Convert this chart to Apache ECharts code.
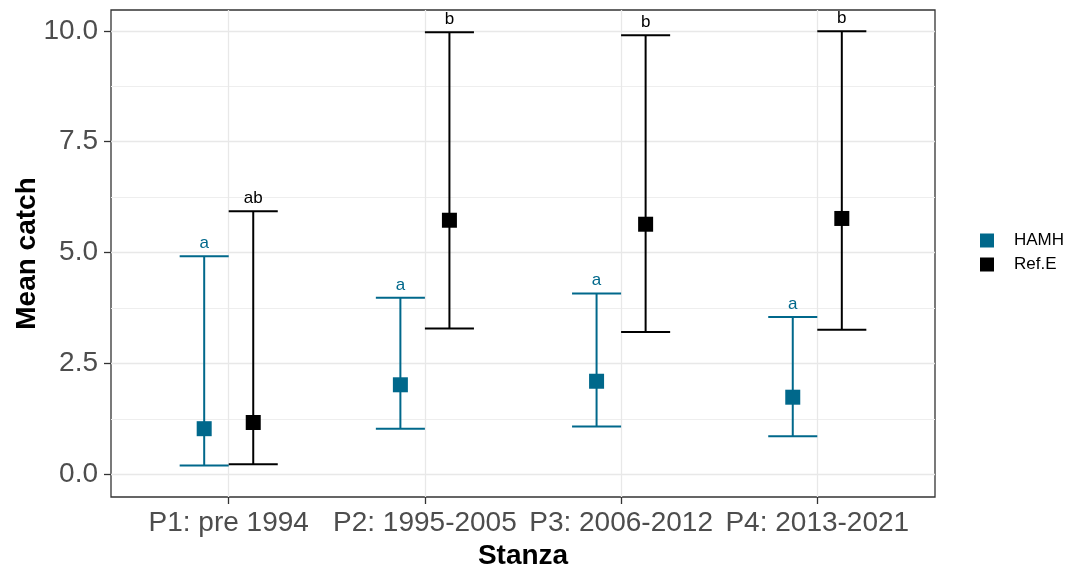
<!DOCTYPE html>
<html>
<head>
<meta charset="utf-8">
<script src="https://cdn.jsdelivr.net/npm/echarts@6/dist/echarts.min.js"></script>
<style>
  html, body { margin: 0; padding: 0; background: #ffffff; }
  #chart { width: 1080px; height: 572px; }
</style>
</head>
<body>
<div id="chart"></div>
<script>
// Stanza periods on the x axis
const categories = ['P1: pre 1994', 'P2: 1995-2005', 'P3: 2006-2012', 'P4: 2013-2021'];

// HAMH: mean catch with lower / upper interval bounds
const hamhMean  = [1.03, 2.02, 2.10, 1.74];
const hamhLower = [0.20, 1.03, 1.08, 0.86];
const hamhUpper = [4.92, 3.98, 4.08, 3.55];
const hamhLetters = ['a', 'a', 'a', 'a'];

// Ref.E: mean catch with lower / upper interval bounds
const refMean  = [1.17, 5.73, 5.64, 5.77];
const refLower = [0.23, 3.29, 3.21, 3.26];
const refUpper = [5.93, 9.97, 9.90, 9.99];
const refLetters = ['ab', 'b', 'b', 'b'];

// Axis ticks
const yTicks = [0, 2.5, 5, 7.5, 10];
const yMinorTicks = [1.25, 3.75, 6.25, 8.75];
const xTicks = [0, 1, 2, 3];

const HAMH_COLOR = '#00688B';
const REF_COLOR = '#000000';
const DODGE = 0.125;     // half the dodge width between groups
const CAP = 0.125;       // half width of error bar caps
const FONT = '"Liberation Sans", Arial, sans-serif';

function errorSeries(name, color, lower, upper, letters, offset) {
  return {
    type: 'custom',
    name: name,
    z: 2,
    silent: true,
    data: categories.map((c, i) => [i + offset, lower[i], upper[i], i]),
    encode: { x: 0, y: [1, 2] },
    renderItem: function (params, api) {
      const x = api.value(0);
      const lo = api.coord([x, api.value(1)]);
      const hi = api.coord([x, api.value(2)]);
      const left = api.coord([x - CAP, api.value(1)])[0];
      const right = api.coord([x + CAP, api.value(1)])[0];
      const style = { stroke: color, lineWidth: 2 };
      return {
        type: 'group',
        children: [
          { type: 'line', shape: { x1: lo[0], y1: lo[1], x2: hi[0], y2: hi[1] }, style: style },
          { type: 'line', shape: { x1: left, y1: lo[1], x2: right, y2: lo[1] }, style: style },
          { type: 'line', shape: { x1: left, y1: hi[1], x2: right, y2: hi[1] }, style: style },
          {
            type: 'text', x: hi[0], y: hi[1] - 13,
            style: {
              text: letters[api.value(3)], fill: color,
              fontSize: 17, fontFamily: FONT,
              align: 'center', verticalAlign: 'middle'
            }
          }
        ]
      };
    }
  };
}

function pointSeries(name, color, means, offset) {
  return {
    type: 'scatter',
    name: name,
    z: 3,
    symbol: 'rect',
    symbolSize: 15,
    itemStyle: { color: color, opacity: 1 },
    data: means.map((v, i) => [i + offset, v])
  };
}

const chart = echarts.init(document.getElementById('chart'), null, { renderer: 'canvas' });

const yRange = { min: -0.51, max: 10.47 };
const majorGrid = { color: '#e8e8e8', width: 1.3 };
const minorGrid = { color: '#eeeeee', width: 1 };

chart.setOption({
  animation: false,
  backgroundColor: '#ffffff',
  grid: {
    left: 111, right: 145, top: 10, bottom: 75,
    show: true, borderColor: '#333333', borderWidth: 1.3,
    backgroundColor: 'transparent',
    containLabel: false,
    outerBoundsMode: 'none'
  },
  legend: {
    orient: 'vertical',
    left: 975, top: 227,
    itemWidth: 14, itemHeight: 14, itemGap: 7,
    textStyle: { fontSize: 17, color: '#000000', fontFamily: FONT, padding: [0, 0, 0, 15] },
    data: [
      { name: 'HAMH', icon: 'rect', itemStyle: { color: HAMH_COLOR, opacity: 1 } },
      { name: 'Ref.E', icon: 'rect', itemStyle: { color: REF_COLOR, opacity: 1 } }
    ],
    selectedMode: false
  },
  xAxis: {
    type: 'value',
    min: -0.6, max: 3.6,
    axisLine: { show: false, onZero: false },
    axisTick: { show: true, customValues: xTicks, length: 7, lineStyle: { color: '#333333', width: 1.3 } },
    axisLabel: {
      customValues: xTicks,
      formatter: v => categories[Math.round(v)] || '',
      fontSize: 28, color: '#4d4d4d', fontFamily: FONT, margin: 12
    },
    splitLine: { show: true, lineStyle: majorGrid },
    name: 'Stanza', nameLocation: 'middle', nameGap: 45,
    nameMoveOverlap: false,
    nameTextStyle: { fontSize: 28, fontWeight: 'bold', color: '#000000', fontFamily: FONT }
  },
  yAxis: [
    {
      type: 'value',
      min: yRange.min, max: yRange.max,
      axisLine: { show: false, onZero: false },
      axisTick: { show: true, customValues: yTicks, length: 7, lineStyle: { color: '#333333', width: 1.3 } },
      axisLabel: {
        customValues: yTicks,
        formatter: v => v.toFixed(1),
        fontSize: 28, color: '#4d4d4d', fontFamily: FONT, margin: 13
      },
      splitLine: { show: true, lineStyle: majorGrid },
      name: 'Mean catch', nameLocation: 'middle', nameGap: 70,
      nameMoveOverlap: false,
      nameTextStyle: { fontSize: 28, fontWeight: 'bold', color: '#000000', fontFamily: FONT }
    },
    {
      type: 'value',
      min: yRange.min, max: yRange.max,
      axisLine: { show: false, onZero: false },
      axisTick: { show: false, customValues: yMinorTicks },
      axisLabel: { show: false, customValues: yMinorTicks },
      splitLine: { show: true, lineStyle: minorGrid }
    }
  ],
  series: [
    errorSeries('HAMH', HAMH_COLOR, hamhLower, hamhUpper, hamhLetters, -DODGE),
    errorSeries('Ref.E', REF_COLOR, refLower, refUpper, refLetters, DODGE),
    pointSeries('HAMH', HAMH_COLOR, hamhMean, -DODGE),
    pointSeries('Ref.E', REF_COLOR, refMean, DODGE)
  ]
});
</script>
</body>
</html>
